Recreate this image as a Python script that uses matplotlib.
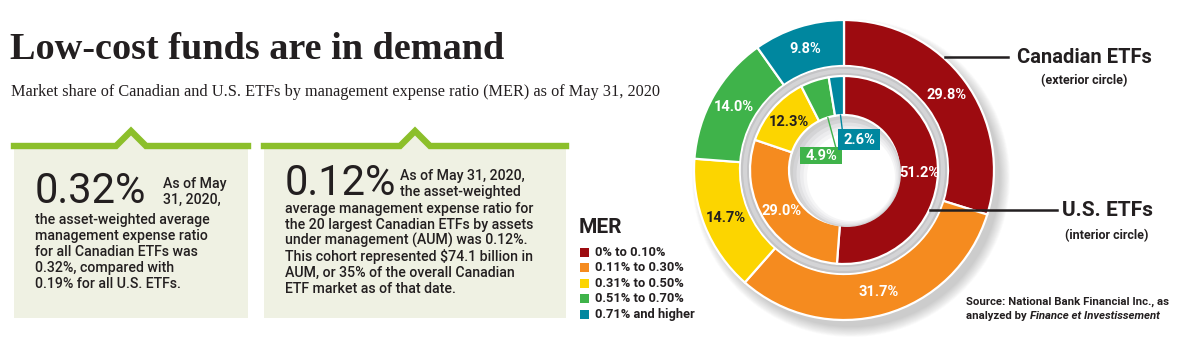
import numpy as np
import matplotlib
matplotlib.use("Agg")
import matplotlib.pyplot as plt
from matplotlib.patches import Circle, Wedge, Rectangle, Polygon

# ------------------------------------------------------------------
# data
categories = ["0% to 0.10%", "0.11% to 0.30%", "0.31% to 0.50%",
              "0.51% to 0.70%", "0.71% and higher"]
canadian_share = [29.8, 31.7, 14.7, 14.0, 9.8]   # exterior circle
us_share = [51.2, 29.0, 12.3, 4.9, 2.6]          # interior circle
colors = ["#9d0b10", "#f58b1f", "#fcd500", "#3fb34a", "#00879f"]
text_colors = ["white", "white", "#231f20", "white", "white"]

title = "Low-cost funds are in demand"
subtitle = ("Market share of Canadian and U.S. ETFs by management expense "
            "ratio (MER) as of May 31, 2020")
box1_big = "0.32%"
box1_side = ["As of May", "31, 2020,"]
box1_body = ["the asset-weighted average", "management expense ratio",
             "for all Canadian ETFs was", "0.32%, compared with",
             "0.19% for all U.S. ETFs."]
box2_big = "0.12%"
box2_side = ["As of May 31, 2020,", "the asset-weighted"]
box2_body = ["average management expense ratio for",
             "the 20 largest Canadian ETFs by assets",
             "under management (AUM) was 0.12%.",
             "This cohort represented $74.1 billion in",
             "AUM, or 35% of the overall Canadian",
             "ETF market as of that date."]

# ------------------------------------------------------------------
W, H = 1202, 347
DARK = "#231f20"
NARROW = ["Roboto", "DejaVu Sans"]
SANS = ["Roboto", "DejaVu Sans"]
SERIF = ["Liberation Serif", "DejaVu Serif"]

fig = plt.figure(figsize=(W / 100, H / 100), dpi=100)
fig.patch.set_facecolor("white")

# donut axes, pixel units, centre at (844, 170)
cx, cy, half = 844, 170, 175
dax = fig.add_axes([(cx - half) / W, (H - cy - half) / H, 2 * half / W, 2 * half / H])
dax.set_xlim(-half, half)
dax.set_ylim(-half, half)
dax.set_aspect("equal")
dax.axis("off")
dax.set_zorder(1)

# soft drop shadow, towards the lower right
for k in range(12):
    dax.add_patch(Circle((7, -8), 149 + k * 0.9, color="#707070", alpha=0.03,
                         lw=0, zorder=0))

R_OUT, R_OUT_IN = 150, 104
R_IN, R_HOLE = 94, 55

dax.pie(canadian_share, colors=colors, radius=R_OUT, startangle=90,
        counterclock=False, frame=True,
        wedgeprops=dict(width=R_OUT - R_OUT_IN, edgecolor="white", linewidth=1.6))
# grey separator ring
dax.add_patch(Wedge((0, 0), R_OUT_IN - 0.8, 0, 360, width=R_OUT_IN - R_IN,
                    color="#c4c4c6", lw=0, zorder=2))
dax.add_patch(Wedge((0, 0), R_OUT_IN - 3, 0, 360, width=4,
                    color="#d4d4d6", lw=0, zorder=2))
dax.pie(us_share, colors=colors, radius=R_IN, startangle=90,
        counterclock=False, frame=True,
        wedgeprops=dict(width=R_IN - R_HOLE, edgecolor="white", linewidth=1.6,
                        zorder=3))
# shaded hole
for k, c in enumerate(["#d4d4d6", "#e2e2e4", "#ececee", "#f5f5f6", "#ffffff"]):
    dax.add_patch(Circle((3 + k, -3 - k), R_HOLE - 1 - k * 2.5, color=c, lw=0,
                         zorder=4))
dax.set_xlim(-half, half)
dax.set_ylim(-half, half)


def mid_angles(vals):
    cum = np.cumsum([0] + list(vals))
    mids = (cum[:-1] + cum[1:]) / 2.0
    return np.deg2rad(mids / 100.0 * 360.0)   # clockwise from 12 o'clock


lab_font = dict(family=NARROW, fontweight="bold", fontsize=10.5,
                ha="center", va="center", zorder=6)
for v, a, tc in zip(canadian_share, mid_angles(canadian_share), text_colors):
    r = 127
    dax.text(r * np.sin(a), r * np.cos(a), f"{v:.1f}%", color=tc, **lab_font)

inner_angles = mid_angles(us_share)
for i in range(3):
    a = inner_angles[i]
    r = 75 if i != 2 else 73
    dax.text(r * np.sin(a), r * np.cos(a), f"{us_share[i]:.1f}%",
             color=text_colors[i], **lab_font)

# small inner slices: boxed labels in the hole with leader lines
small_boxes = {3: (-44, 6, 42, 17), 4: (-6, 20, 42, 21)}
for i, (bx, by, bw, bh) in small_boxes.items():
    a = inner_angles[i]
    x0, y0 = R_HOLE * np.sin(a) + 1, R_HOLE * np.cos(a)
    dax.plot([x0, bx + bw * (0.85 if i == 3 else 0.1)], [y0, by + bh],
             color=colors[i], lw=1.0, zorder=5)
    dax.add_patch(Rectangle((bx, by), bw, bh, color=colors[i], lw=0, zorder=5))
    dax.text(bx + bw / 2, by + bh / 2, f"{us_share[i]:.1f}%", color="white",
             **lab_font)

# ------------------------------------------------------------------
# overlay axes in pixel coordinates (y down)
ax = fig.add_axes([0, 0, 1, 1])
ax.set_xlim(0, W)
ax.set_ylim(H, 0)
ax.axis("off")
ax.patch.set_alpha(0)
ax.set_zorder(2)

ax.text(10, 59, title, family=SERIF, fontweight="bold", fontsize=27.5,
        color=DARK, va="baseline")
ax.text(11, 96, subtitle, family=SERIF, fontsize=11.7, color=DARK,
        va="baseline")

BOX_FILL = "#eff1e3"
BAR = "#8cbf2b"


def info_box(x0, x1, big, side, body, big_w, y_big, y_side, y_body):
    top, bottom = 146, 318
    ax.add_patch(Rectangle((x0, top), x1 - x0, bottom - top, color=BOX_FILL,
                           lw=0, zorder=1))
    mx = (x0 + x1) / 2
    ax.add_patch(Polygon([(mx - 16, top), (mx, top - 16), (mx + 16, top)],
                         closed=True, color=BOX_FILL, lw=0, zorder=1))
    ax.plot([x0, mx - 15, mx, mx + 15, x1], [top, top, top - 15, top, top],
            color=BAR, lw=4.6, solid_joinstyle="miter", zorder=2)
    ax.text(x0 + 21, y_big, big, family=SANS, fontweight="normal", fontsize=30,
            color=DARK, va="baseline")
    for k, line in enumerate(side):
        ax.text(x0 + 21 + big_w, y_side + k * 16, line, family=SANS,
                fontweight="medium", fontsize=10.2, color=DARK, va="baseline")
    for k, line in enumerate(body):
        ax.text(x0 + 21, y_body + k * 16, line, family=SANS, fontweight="medium",
                fontsize=10.2, color=DARK, va="baseline")


info_box(14, 248, box1_big, box1_side, box1_body, 128, 203, 188, 224)
info_box(264, 566, box2_big, box2_side, box2_body, 115, 195, 180, 213)

# legend
ax.text(579, 233, "MER", family=NARROW, fontweight="bold", fontsize=15,
        color=DARK, va="baseline")
for k, (lab, c) in enumerate(zip(categories, colors)):
    yy = 252 + k * 15.6
    ax.add_patch(Rectangle((580, yy - 4.5), 9, 9, color=c, lw=0))
    ax.text(595, yy, lab, family=NARROW, fontweight="bold", fontsize=9.3,
            color=DARK, va="center")

# series labels on the right
ax.plot([945, 1008], [57, 57], color=DARK, lw=1.8, zorder=5)
ax.text(1084, 57, "Canadian ETFs", family=NARROW, fontweight="bold",
        fontsize=14.5, color=DARK, ha="center", va="center")
ax.text(1084, 81, "(exterior circle)", family=NARROW, fontweight="bold",
        fontsize=9, color=DARK, ha="center", va="center")
ax.plot([930, 1057], [210, 210], color=DARK, lw=1.8, zorder=5)
ax.text(1107, 210, "U.S. ETFs", family=NARROW, fontweight="bold",
        fontsize=15, color=DARK, ha="center", va="center")
ax.text(1107, 236, "(interior circle)", family=NARROW, fontweight="bold",
        fontsize=9, color=DARK, ha="center", va="center")

# source
ax.text(1068, 302, "Source: National Bank Financial Inc., as", family=NARROW,
        fontweight="bold", fontsize=8.2, color=DARK, ha="center", va="center")
ax.text(1030, 316, "analyzed by ", family=NARROW, fontweight="bold",
        fontsize=8.2, color=DARK, ha="right", va="center")
ax.text(1030, 316, "Finance et Investissement", family=NARROW,
        fontweight="bold", style="italic", fontsize=8.2, color=DARK,
        ha="left", va="center")

fig.savefig("out.png", dpi=100, facecolor="white")
